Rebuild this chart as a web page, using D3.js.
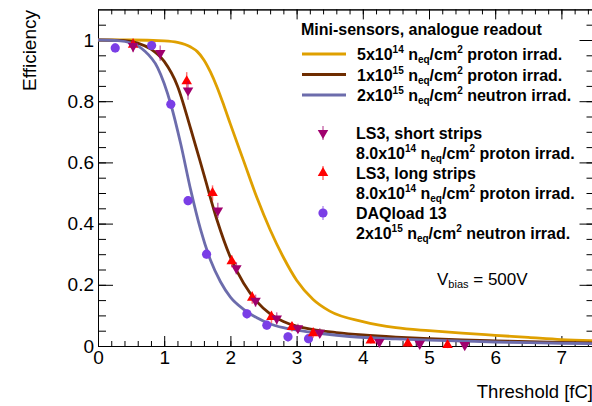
<!DOCTYPE html>
<html lang="en">
<head>
<meta charset="UTF-8">
<title>Efficiency vs threshold</title>
<script src="https://d3js.org/d3.v7.min.js"></script>
<style>
  body { margin: 0; background: #fff; }
  svg { display: block; font-family: "Liberation Sans", Arial, Helvetica, sans-serif; }
  text { white-space: pre; }
</style>
</head>
<body>
<svg width="592" height="406"></svg>
<script>
// fitted curves (mini-sensors, analogue readout)
const thrP5e14 = [0, 0.5, 1.0, 1.2, 1.4, 1.5, 1.6, 1.7, 1.8, 1.9, 2.0, 2.2, 2.4, 2.6, 2.8, 3.0, 3.25, 3.5, 4.0, 4.5, 5.0, 5.5, 6.0, 6.5, 7.0, 7.5];
const effP5e14 = [1.0, 1.0, 0.997, 0.992, 0.977, 0.962, 0.935, 0.895, 0.845, 0.787, 0.725, 0.605, 0.485, 0.38, 0.29, 0.215, 0.152, 0.114, 0.08, 0.06, 0.05, 0.042, 0.035, 0.028, 0.021, 0.017];

const thrP1e15 = [0, 0.4, 0.6, 0.8, 1.0, 1.2, 1.4, 1.6, 1.8, 2.0, 2.2, 2.4, 2.6, 2.8, 3.0, 3.3, 3.6, 4.0, 4.5, 5.0, 5.5, 6.0, 6.5, 7.0, 7.5];
const effP1e15 = [1.0, 0.998, 0.99, 0.97, 0.93, 0.85, 0.71, 0.56, 0.41, 0.29, 0.205, 0.145, 0.105, 0.08, 0.065, 0.052, 0.044, 0.036, 0.029, 0.024, 0.02, 0.017, 0.014, 0.012, 0.01];

const thrN2e15 = [0, 0.3, 0.5, 0.7, 0.9, 1.1, 1.25, 1.4, 1.55, 1.7, 1.85, 2.0, 2.2, 2.4, 2.6, 2.8, 3.0, 3.4, 3.8, 4.5, 5.0, 5.5, 6.0, 6.5, 7.0, 7.5];
const effN2e15 = [1.0, 0.998, 0.99, 0.965, 0.91, 0.79, 0.66, 0.51, 0.38, 0.28, 0.21, 0.16, 0.12, 0.092, 0.072, 0.06, 0.052, 0.04, 0.031, 0.023, 0.019, 0.016, 0.013, 0.011, 0.009, 0.008];

// measured points
const thrShort = [0.53, 0.94, 1.36, 1.81, 2.09, 2.38, 2.70, 3.02, 3.35, 4.25, 4.86, 5.54];
const effShort = [0.98, 0.957, 0.835, 0.443, 0.254, 0.148, 0.09, 0.058, 0.043, 0.013, 0.007, 0.003];
const errShort = [0.02, 0.025, 0.03, 0.025, 0.02, 0.02, 0.02, 0.015, 0.015, 0.01, 0.01, 0.01];

const thrLong = [0.53, 1.34, 1.73, 2.02, 2.33, 2.62, 2.93, 3.25, 4.12, 4.68, 5.28];
const effLong = [0.985, 0.865, 0.50, 0.277, 0.158, 0.095, 0.062, 0.042, 0.018, 0.008, 0.003];
const errLong = [0.02, 0.03, 0.025, 0.02, 0.02, 0.02, 0.015, 0.015, 0.01, 0.01, 0.01];

const thrDaq = [0.26, 0.81, 1.10, 1.36, 1.64, 2.25, 2.55, 2.87, 3.18];
const effDaq = [0.974, 0.982, 0.79, 0.475, 0.30, 0.105, 0.068, 0.03, 0.024];
const errDaq = [0.015, 0.015, 0.015, 0.015, 0.015, 0.015, 0.015, 0.015, 0.015];

const xTicks = [0, 1, 2, 3, 4, 5, 6, 7];
const yTicks = [0, 0.2, 0.4, 0.6, 0.8, 1];
const yTickLabels = ["0", "0.2", "0.4", "0.6", "0.8", "1"];

const cGold = "#dfa000", cBrown = "#6e2c00", cBlue = "#6c6cac";
const cShort = "#a0006e", cLong = "#ff0000", cDaq = "#7a3ee6";

const svg = d3.select("svg");
const x = d3.scaleLinear().domain([0, 7.5]).range([98, 594.5]);
const y = d3.scaleLinear().domain([0, 1.1]).range([346, 9.4]);

const zip = (a, b) => a.map((v, i) => [v, b[i]]);

// axes (ticks inside, ROOT style)
const xMinor = d3.range(0, 7.5, 0.2);
const yMinor = d3.range(0, 1.1, 0.05);

function styleAxis(g) {
  g.selectAll("path, line").attr("stroke", "#000").attr("stroke-width", 1);
  g.selectAll("text").attr("font-size", 19).attr("fill", "#000")
    .attr("font-family", "'Liberation Sans', Arial, Helvetica, sans-serif");
}

svg.append("g").attr("transform", `translate(0,${y(0)})`)
  .call(d3.axisBottom(x).tickValues(xTicks).tickSize(-10).tickSizeOuter(0).tickPadding(5).tickFormat(d => d))
  .call(styleAxis);
svg.append("g").attr("transform", `translate(0,${y(0)})`)
  .call(d3.axisBottom(x).tickValues(xMinor).tickSize(-5).tickSizeOuter(0).tickFormat(""))
  .call(styleAxis);
svg.append("g").attr("transform", `translate(0,${y(1.1)})`)
  .call(d3.axisTop(x).tickValues(xTicks).tickSize(-10).tickSizeOuter(0).tickFormat(""))
  .call(styleAxis);
svg.append("g").attr("transform", `translate(0,${y(1.1)})`)
  .call(d3.axisTop(x).tickValues(xMinor).tickSize(-5).tickSizeOuter(0).tickFormat(""))
  .call(styleAxis);

svg.append("g").attr("transform", `translate(${x(0)},0)`)
  .call(d3.axisLeft(y).tickValues(yTicks).tickSize(-15).tickSizeOuter(0).tickPadding(4)
    .tickFormat((d, i) => yTickLabels[i]))
  .call(styleAxis);
svg.append("g").attr("transform", `translate(${x(0)},0)`)
  .call(d3.axisLeft(y).tickValues(yMinor).tickSize(-8).tickSizeOuter(0).tickFormat(""))
  .call(styleAxis);
svg.append("g").attr("transform", `translate(${x(7.5)},0)`)
  .call(d3.axisRight(y).tickValues(yTicks).tickSize(-15).tickSizeOuter(0).tickFormat(""))
  .call(styleAxis);
svg.append("g").attr("transform", `translate(${x(7.5)},0)`)
  .call(d3.axisRight(y).tickValues(yMinor).tickSize(-8).tickSizeOuter(0).tickFormat(""))
  .call(styleAxis);

// curves
const line = d3.line().x(d => x(d[0])).y(d => y(d[1])).curve(d3.curveMonotoneX);
[[thrP5e14, effP5e14, cGold], [thrP1e15, effP1e15, cBrown], [thrN2e15, effN2e15, cBlue]]
  .forEach(([t, e, c]) => {
    svg.append("path")
      .attr("d", line(zip(t, e)))
      .attr("fill", "none")
      .attr("stroke", c)
      .attr("stroke-width", 2.8);
  });

// markers
const triUp = d3.symbol().type(d3.symbolTriangle).size(48);
function drawPoints(t, e, err, color, kind) {
  const g = svg.append("g");
  zip(t, e).forEach(([tv, ev], i) => {
    g.append("line")
      .attr("x1", x(tv)).attr("x2", x(tv))
      .attr("y1", y(ev - err[i])).attr("y2", y(ev + err[i]))
      .attr("stroke", color).attr("stroke-opacity", 0.55).attr("stroke-width", 1.5);
    if (kind === "circle") {
      g.append("circle").attr("cx", x(tv)).attr("cy", y(ev)).attr("r", 4.6).attr("fill", color);
    } else {
      g.append("path").attr("d", triUp())
        .attr("transform", `translate(${x(tv)},${y(ev)})${kind === "down" ? " rotate(180)" : ""}`)
        .attr("fill", color);
    }
  });
}
drawPoints(thrDaq, effDaq, errDaq, cDaq, "circle");
drawPoints(thrLong, effLong, errLong, cLong, "up");
drawPoints(thrShort, effShort, errShort, cShort, "down");

// rich text helper (^ = superscript, _ = subscript)
function rich(sel, parts, size) {
  let shift = 0;
  parts.forEach(p => {
    const target = p[1] === "^" ? -7 : p[1] === "_" ? 3 : 0;
    sel.append("tspan")
      .attr("dy", target - shift)
      .attr("font-size", target ? Math.round(size * 0.64) : size)
      .text(p[0]);
    shift = target;
  });
}

// legend: curves
const legend = svg.append("g").attr("font-weight", "bold").attr("fill", "#000");
legend.append("text").attr("x", 301).attr("y", 35).attr("font-size", 16)
  .text("Mini-sensors, analogue readout");

const curveEntries = [
  [cGold, [["5x10"], ["14", "^"], [" n"], ["eq", "_"], ["/cm"], ["2", "^"], [" proton irrad."]]],
  [cBrown, [["1x10"], ["15", "^"], [" n"], ["eq", "_"], ["/cm"], ["2", "^"], [" proton irrad."]]],
  [cBlue, [["2x10"], ["15", "^"], [" n"], ["eq", "_"], ["/cm"], ["2", "^"], [" neutron irrad."]]]
];
curveEntries.forEach(([c, parts], i) => {
  const ly = 54 + i * 20.5;
  legend.append("line").attr("x1", 302).attr("x2", 346).attr("y1", ly).attr("y2", ly)
    .attr("stroke", c).attr("stroke-width", 2.8);
  rich(legend.append("text").attr("x", 357).attr("y", ly + 6), parts, 16);
});

// legend: measurements
const pointEntries = [
  [cShort, "down", "LS3, short strips", [["8.0x10"], ["14", "^"], [" n"], ["eq", "_"], ["/cm"], ["2", "^"], [" proton irrad."]]],
  [cLong, "up", "LS3, long strips", [["8.0x10"], ["14", "^"], [" n"], ["eq", "_"], ["/cm"], ["2", "^"], [" proton irrad."]]],
  [cDaq, "circle", "DAQload 13", [["2x10"], ["15", "^"], [" n"], ["eq", "_"], ["/cm"], ["2", "^"], [" neutron irrad."]]]
];
pointEntries.forEach(([c, kind, title, parts], i) => {
  const by = 139 + i * 40;
  const my = by - 6;
  legend.append("line").attr("x1", 323).attr("x2", 323).attr("y1", my - 7).attr("y2", my + 7)
    .attr("stroke", c).attr("stroke-opacity", 0.55).attr("stroke-width", 1.5);
  if (kind === "circle") {
    legend.append("circle").attr("cx", 323).attr("cy", my).attr("r", 4.6).attr("fill", c);
  } else {
    legend.append("path").attr("d", triUp())
      .attr("transform", `translate(323,${my})${kind === "down" ? " rotate(180)" : ""}`)
      .attr("fill", c);
  }
  legend.append("text").attr("x", 356).attr("y", by).attr("font-size", 16).text(title);
  rich(legend.append("text").attr("x", 356).attr("y", by + 20), parts, 16);
});

// V_bias annotation
rich(svg.append("text").attr("x", 437).attr("y", 285).attr("fill", "#000"),
  [["V"], ["bias", "_"], [" = 500V"]], 17);

// axis titles
svg.append("text")
  .attr("x", 593).attr("y", 398)
  .attr("text-anchor", "end")
  .attr("font-size", 18.5)
  .text("Threshold [fC]");

svg.append("text")
  .attr("transform", "translate(36,10) rotate(-90)")
  .attr("text-anchor", "end")
  .attr("font-size", 19)
  .text("Efficiency");
</script>
</body>
</html>
